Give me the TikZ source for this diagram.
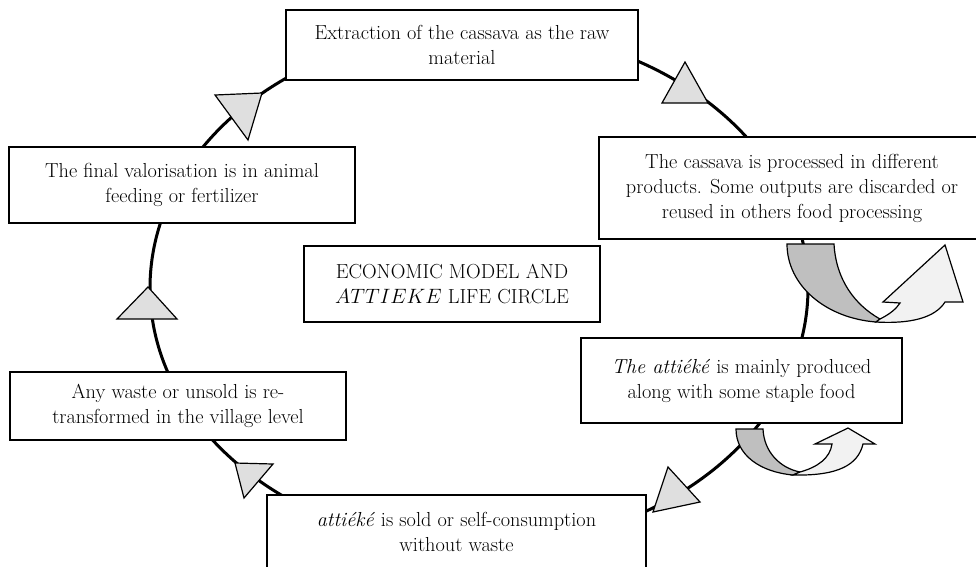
\documentclass[tikz,border=0pt]{standalone}
\usetikzlibrary{calc}
\begin{document}
\begin{tikzpicture}[x=1pt,y=-1pt,
  box/.style={draw, line width=1.3pt, fill=white, align=center, inner sep=0pt,
    font=\fontsize{20.3}{25}\selectfont},
  tri/.style={draw, line width=1.2pt, fill=gray!25, line join=miter},
  darkband/.style={draw, line width=1.2pt, fill=gray!50},
  lightband/.style={draw, line width=1.2pt, fill=gray!10},
  ring/.style={line width=3pt}]
\useasboundingbox (0,0) rectangle (976,566);

% cycle ring
\draw[ring] (479,288) ellipse [x radius=329, y radius=259];

% arrowheads on the ring
\draw[tri] (215,95) -- (262,93) -- (248,140) -- cycle;
\draw[tri] (685,62) -- (662,103) -- (708,103) -- cycle;
\draw[tri] (148,287) -- (117,319) -- (177,319) -- cycle;
\draw[tri] (235,463) -- (273,464) -- (244,498) -- cycle;
\draw[tri] (668,467) -- (653,512) -- (700,502) -- cycle;

% upper U-turn arrow
\draw[darkband] (787,244) -- (834,244) .. controls (836,280) and (855,305) .. (880,319)
  -- (876,322) .. controls (825,318) and (787,285) .. (787,244) -- cycle;
\draw[lightband] (880,319) .. controls (890,314) and (896,309) .. (900,303)
  -- (883,302) -- (945,245) -- (963,302) -- (945,302)
  .. controls (935,318) and (910,324) .. (876,322) -- cycle;

% lower U-turn arrow
\draw[darkband] (736,429) -- (763,429) .. controls (764,452) and (780,468) .. (800,472)
  -- (793,475) .. controls (760,472) and (736,455) .. (736,429) -- cycle;
\draw[lightband] (800,472) .. controls (818,467) and (830,458) .. (832,444)
  -- (815,444) -- (848,428) -- (875,444) -- (863,444)
  .. controls (858,465) and (838,476) .. (793,475) -- cycle;

% boxes
\node[box, minimum width=352pt, minimum height=70pt] (extract) at (462,45)
  {Extraction of the cassava as the raw\\material};
\node[box, minimum width=346pt, minimum height=76pt] (final) at (182,185)
  {The final valorisation is in animal\\feeding or fertilizer};
\node[box, minimum width=386pt, minimum height=102pt] (process) at (792,188)
  {The cassava is processed in different\\products. Some outputs are discarded or\\reused in others food processing};
\node[box, minimum width=296pt, minimum height=76pt] (title) at (452,284)
  {ECONOMIC MODEL AND\\$ATTIEKE$ LIFE CIRCLE};
\node[box, minimum width=321pt, minimum height=85pt] (produce) at (741.5,380.5)
  {\textit{The attiéké} is mainly produced\\along with some staple food};
\node[box, minimum width=336pt, minimum height=68pt] (waste) at (178,406)
  {Any waste or unsold is re-\\transformed in the village level};
\node[box, minimum width=379pt, minimum height=74pt] (sold) at (456.5,532)
  {\textit{attiéké} is sold or self-consumption\\without waste};
\end{tikzpicture}
\end{document}
